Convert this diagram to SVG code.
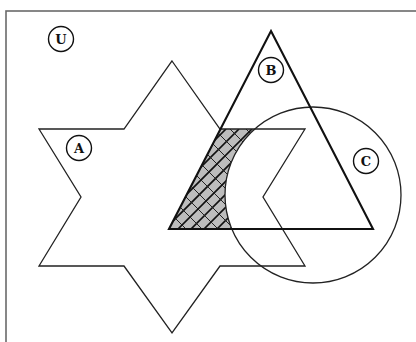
<svg xmlns="http://www.w3.org/2000/svg" width="416" height="342" viewBox="0 0 416 342">
<style>
.frame{fill:none;stroke:#6a6a6a;stroke-width:1.6}
.star{fill:none;stroke:#222;stroke-width:1.3;stroke-linejoin:miter}
.tri{fill:none;stroke:#111;stroke-width:2.1;stroke-linejoin:miter}
.circ{fill:none;stroke:#222;stroke-width:1.3}
.lbl circle{fill:#fff;stroke:#111;stroke-width:1.4}
.lbl text{font-family:"DejaVu Serif","Liberation Serif",serif;font-weight:bold;font-size:13px;fill:#111;text-anchor:middle}
.h1{stroke:#111;stroke-width:1.7}
.h2{stroke:#222;stroke-width:1}
</style>
<defs>
<clipPath id="regclip">
<path d="M220,129 L254.8,129 A88,88 0 0,0 231.8,229 L169,229 Z"/>
</clipPath>
</defs>
<rect width="416" height="342" fill="#fff"/>
<rect class="frame" x="6" y="11" width="430" height="350"/>

<g id="shaded">
<path d="M220,129 L254.8,129 A88,88 0 0,0 231.8,229 L169,229 Z" fill="#bdbdbd" stroke="none"/>
<g clip-path="url(#regclip)">
<g class="h1">
<line x1="226" y1="129" x2="126" y2="229"/>
<line x1="239" y1="129" x2="139" y2="229"/>
<line x1="252" y1="129" x2="152" y2="229"/>
<line x1="265" y1="129" x2="165" y2="229"/>
<line x1="278" y1="129" x2="178" y2="229"/>
<line x1="291" y1="129" x2="191" y2="229"/>
<line x1="304" y1="129" x2="204" y2="229"/>
<line x1="317" y1="129" x2="217" y2="229"/>
<line x1="330" y1="129" x2="230" y2="229"/>
<line x1="343" y1="129" x2="243" y2="229"/>
</g>
<g class="h2">
<line x1="70" y1="129" x2="170" y2="229"/>
<line x1="86" y1="129" x2="186" y2="229"/>
<line x1="102" y1="129" x2="202" y2="229"/>
<line x1="118" y1="129" x2="218" y2="229"/>
<line x1="134" y1="129" x2="234" y2="229"/>
<line x1="150" y1="129" x2="250" y2="229"/>
<line x1="166" y1="129" x2="266" y2="229"/>
<line x1="182" y1="129" x2="282" y2="229"/>
<line x1="198" y1="129" x2="298" y2="229"/>
<line x1="214" y1="129" x2="314" y2="229"/>
<line x1="230" y1="129" x2="330" y2="229"/>
<line x1="246" y1="129" x2="346" y2="229"/>
</g>
</g>
</g>

<g id="setA">
<path class="star" d="M172,61 L220,129 L305,129 L263,197 L305,266 L220,266 L172,333 L124,266 L39,266 L81,197 L39,129 L124,129 Z"/>
</g>
<g id="setC">
<circle class="circ" cx="313" cy="195" r="88"/>
</g>
<g id="setB">
<path class="tri" d="M271,31 L373,229 L169,229 Z"/>
</g>

<g id="labelU" class="lbl"><circle cx="61" cy="39" r="12.5"/><text x="61" y="43.5">U</text></g>
<g id="labelA" class="lbl"><circle cx="79" cy="148" r="12.5"/><text x="79" y="152.5">A</text></g>
<g id="labelB" class="lbl"><circle cx="271" cy="70" r="12.5"/><text x="271" y="74.5">B</text></g>
<g id="labelC" class="lbl"><circle cx="366" cy="161" r="12.5"/><text x="366" y="165.5">C</text></g>
</svg>
